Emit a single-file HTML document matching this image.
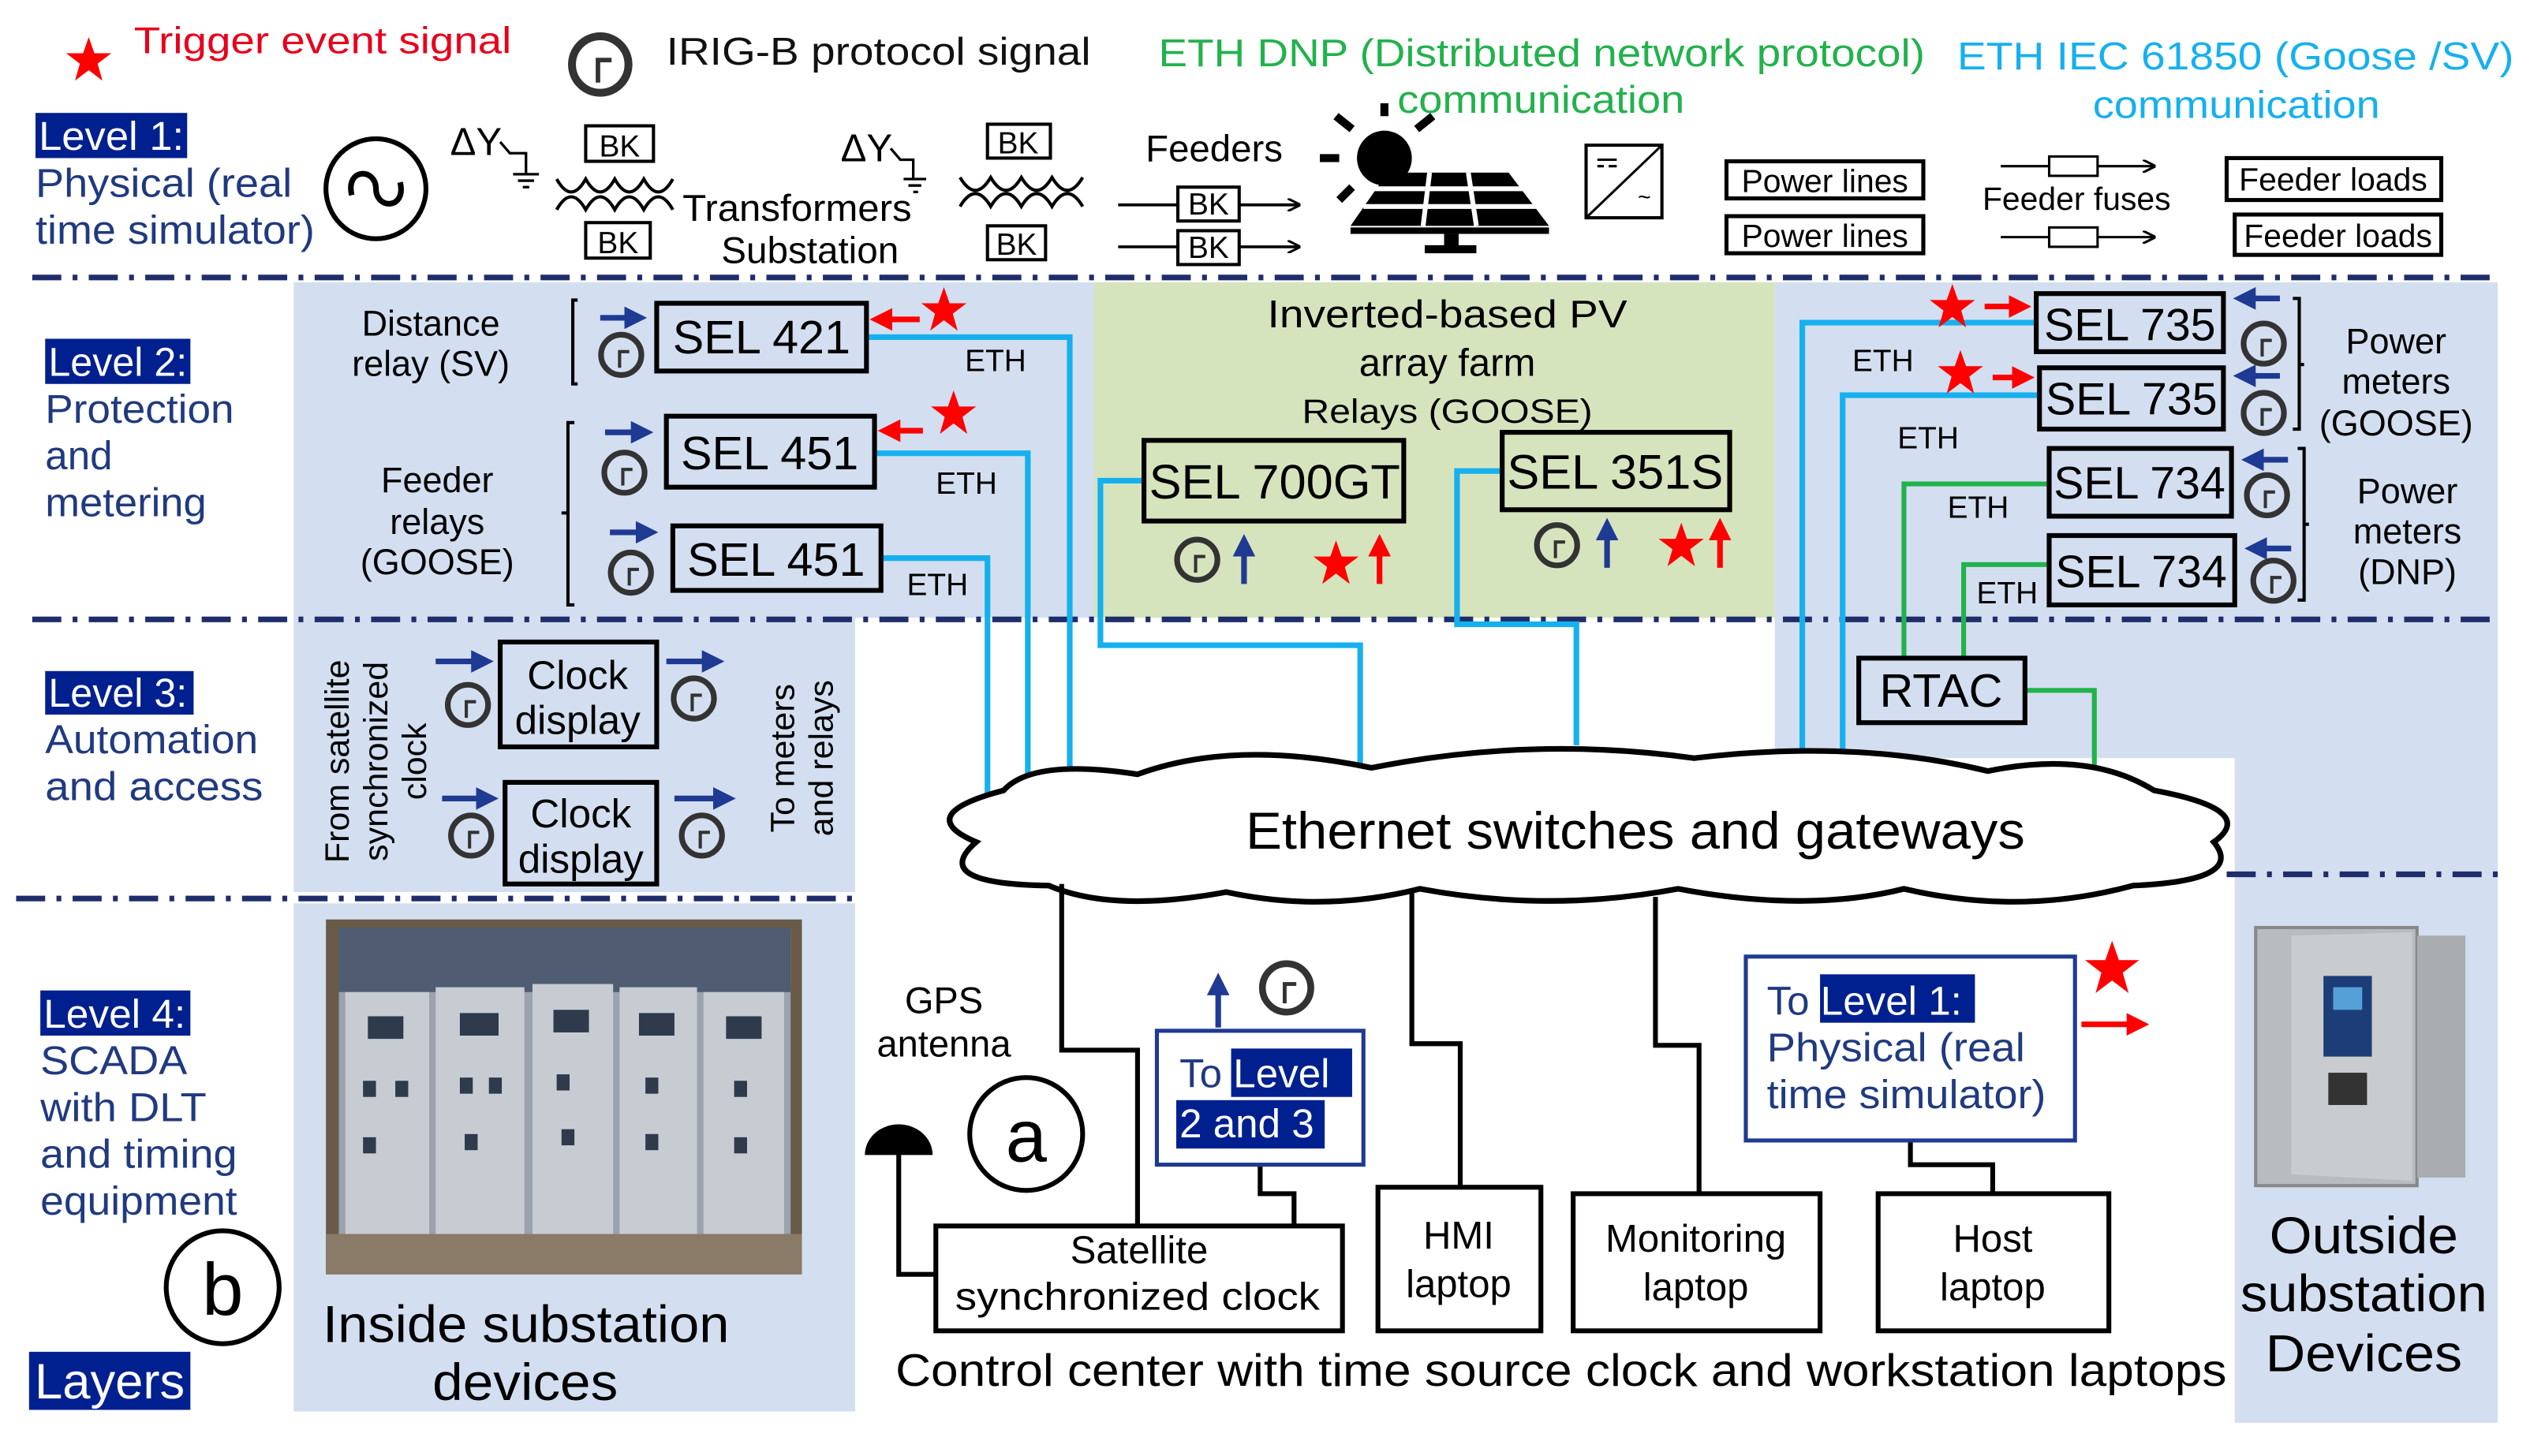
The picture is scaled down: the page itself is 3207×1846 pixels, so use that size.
<!DOCTYPE html>
<html><head><meta charset="utf-8"><style>
html,body{margin:0;padding:0;background:#fff}
svg{display:block}
text{font-family:"Liberation Sans",Arial,sans-serif}
</style></head><body>
<svg width="3207" height="1846" viewBox="0 0 1568 902.6" preserveAspectRatio="none" xmlns="http://www.w3.org/2000/svg">
<defs>
<g id="clk"><circle cx="0" cy="0" r="12.5" fill="none" stroke="#333" stroke-width="3.5"/><path d="M-1,8 V-2 H5" fill="none" stroke="#333" stroke-width="2"/></g>
<g id="star"><polygon points="0,-14 3.5,-4 14,-4 5.5,2.5 8.5,13 0,6.5 -8.5,13 -5.5,2.5 -14,-4 -3.5,-4" fill="#f00"/></g>
<marker id="ab" markerWidth="4" markerHeight="4" refX="2" refY="2" orient="auto" markerUnits="strokeWidth"><path d="M0,0 L4,2 L0,4 Z" fill="#1f3a93"/></marker>
<marker id="ar" markerWidth="4" markerHeight="4" refX="2" refY="2" orient="auto" markerUnits="strokeWidth"><path d="M0,0 L4,2 L0,4 Z" fill="#f00"/></marker>
<marker id="ak" markerWidth="8" markerHeight="8" refX="7" refY="4" orient="auto" markerUnits="userSpaceOnUse"><path d="M0,0 L8,4 L0,8" fill="none" stroke="#000" stroke-width="1.5"/></marker>
</defs>

<rect x="182" y="175" width="498" height="208" fill="#d3dff0"/>
<rect x="182" y="383" width="348" height="170" fill="#d3dff0"/>
<rect x="678" y="175" width="422" height="208" fill="#d6e4bd"/>
<rect x="1100" y="175" width="448" height="210" fill="#d3dff0"/>
<rect x="1100" y="385" width="448" height="85" fill="#d3dff0"/>
<rect x="1385" y="385" width="163" height="497" fill="#d3dff0"/>
<rect x="182" y="560" width="348" height="315" fill="#d3dff0"/>

<g stroke="#1f2d6b" stroke-width="3.5" stroke-dasharray="18,7,3,7" fill="none">
<line x1="20" y1="172" x2="1548" y2="172"/>
<line x1="20" y1="384" x2="1548" y2="384"/>
<line x1="10" y1="557" x2="535" y2="557"/>
<line x1="1380" y1="542" x2="1548" y2="542"/>
</g>

<use href="#star" x="55" y="37"/>
<text x="83" y="33" font-size="23" fill="#e8001c" textLength="234" lengthAdjust="spacingAndGlyphs">Trigger event signal</text>
<g transform="translate(372,40) scale(1.4)"><use href="#clk"/></g>
<text x="413" y="40" font-size="24" fill="#111" textLength="263" lengthAdjust="spacingAndGlyphs">IRIG-B protocol signal</text>
<text x="718" y="41" font-size="24" fill="#22b24c" textLength="475" lengthAdjust="spacingAndGlyphs">ETH DNP (Distributed network protocol)</text>
<text x="866" y="70" font-size="24" fill="#22b24c" textLength="178" lengthAdjust="spacingAndGlyphs">communication</text>
<text x="1213" y="43" font-size="24" fill="#16b0ee" textLength="345" lengthAdjust="spacingAndGlyphs">ETH IEC 61850 (Goose /SV)</text>
<text x="1297" y="73" font-size="24" fill="#16b0ee" textLength="178" lengthAdjust="spacingAndGlyphs">communication</text>

<rect x="22" y="70" width="94" height="28" fill="#00208f"/>
<text x="24" y="93" font-size="25" fill="#fff" textLength="90" lengthAdjust="spacingAndGlyphs">Level 1:</text>
<text x="22" y="122" font-size="25" fill="#203a80" textLength="159" lengthAdjust="spacingAndGlyphs">Physical (real</text>
<text x="22" y="151" font-size="25" fill="#203a80" textLength="173" lengthAdjust="spacingAndGlyphs">time simulator)</text>
<circle cx="233" cy="117" r="31" fill="none" stroke="#000" stroke-width="3"/>
<path d="M218,121 C214,104 233,104 233,117 C233,130 252,130 248,113" fill="none" stroke="#000" stroke-width="3.5"/>
<text x="279" y="96" font-size="24">ΔY</text>
<path d="M310,88 L316,95 H326 V108 M318,108 H334 M321,112 H331 M324,116 H328" fill="none" stroke="#000" stroke-width="1.6"/>
<rect x="363" y="78" width="42" height="22" fill="#fff" stroke="#000" stroke-width="2"/>
<text x="384" y="97" font-size="19" text-anchor="middle">BK</text>
<path d="M345,111 q9,16 18,0 q9,16 18,0 q9,16 18,0 q9,16 18,0" fill="none" stroke="#000" stroke-width="2"/>
<path d="M345,130 q9,-16 18,0 q9,-16 18,0 q9,-16 18,0 q9,-16 18,0" fill="none" stroke="#000" stroke-width="2"/>
<rect x="363" y="138" width="40" height="22" fill="#fff" stroke="#000" stroke-width="2"/>
<text x="383" y="157" font-size="19" text-anchor="middle">BK</text>
<text x="423" y="137" font-size="23" textLength="142" lengthAdjust="spacingAndGlyphs">Transformers</text>
<text x="447" y="163" font-size="23" textLength="110" lengthAdjust="spacingAndGlyphs">Substation</text>
<text x="521" y="100" font-size="24">ΔY</text>
<path d="M552,92 L558,99 H566 V111 M560,111 H574 M563,115 H571 M566,119 H569" fill="none" stroke="#000" stroke-width="1.6"/>
<rect x="612" y="77" width="39" height="21" fill="#fff" stroke="#000" stroke-width="2"/>
<text x="631" y="95" font-size="19" text-anchor="middle">BK</text>
<path d="M595,110 q9.5,16 19,0 q9.5,16 19,0 q9.5,16 19,0 q9.5,16 19,0" fill="none" stroke="#000" stroke-width="2"/>
<path d="M595,128 q9.5,-16 19,0 q9.5,-16 19,0 q9.5,-16 19,0 q9.5,-16 19,0" fill="none" stroke="#000" stroke-width="2"/>
<rect x="612" y="140" width="36" height="21" fill="#fff" stroke="#000" stroke-width="2"/>
<text x="630" y="158" font-size="19" text-anchor="middle">BK</text>
<text x="710" y="100" font-size="23" textLength="85" lengthAdjust="spacingAndGlyphs">Feeders</text>
<line x1="693" y1="127" x2="805" y2="127" stroke="#000" stroke-width="1.8" marker-end="url(#ak)"/>
<line x1="693" y1="153" x2="805" y2="153" stroke="#000" stroke-width="1.8" marker-end="url(#ak)"/>
<rect x="730" y="116" width="38" height="21" fill="#fff" stroke="#000" stroke-width="2"/>
<text x="749" y="133" font-size="19" text-anchor="middle">BK</text>
<rect x="730" y="143" width="38" height="21" fill="#fff" stroke="#000" stroke-width="2"/>
<text x="749" y="160" font-size="19" text-anchor="middle">BK</text>
<circle cx="858" cy="98" r="17" fill="#000"/>
<g stroke="#000" stroke-width="5">
<line x1="858" y1="72" x2="858" y2="64"/><line x1="838" y1="80" x2="828" y2="72"/><line x1="878" y1="80" x2="888" y2="72"/>
<line x1="830" y1="98" x2="818" y2="98"/><line x1="838" y1="116" x2="830" y2="124"/>
</g>
<polygon points="860,107 935,107 960,140 837,140" fill="#000"/>
<g stroke="#fff" stroke-width="3"><line x1="850" y1="117" x2="945" y2="117"/><line x1="845" y1="128" x2="952" y2="128"/><line x1="886" y1="107" x2="882" y2="140"/><line x1="910" y1="107" x2="915" y2="140"/></g>
<rect x="837" y="141" width="123" height="4" fill="#000"/>
<rect x="895" y="145" width="9" height="10" fill="#000"/><rect x="883" y="152" width="32" height="5" fill="#000"/>
<rect x="983" y="90" width="47" height="45" fill="#fff" stroke="#000" stroke-width="2"/>
<line x1="983" y1="135" x2="1030" y2="90" stroke="#000" stroke-width="1.5"/>
<path d="M990,99 H1002 M990,103 H994 M997,103 H1002" stroke="#000" stroke-width="1.5"/>
<text x="1015" y="127" font-size="14">~</text>
<rect x="1070" y="100" width="122" height="23" fill="#fff" stroke="#000" stroke-width="2.5"/>
<text x="1131" y="119" font-size="20" text-anchor="middle">Power lines</text>
<rect x="1070" y="134" width="122" height="23" fill="#fff" stroke="#000" stroke-width="2.5"/>
<text x="1131" y="153" font-size="20" text-anchor="middle">Power lines</text>
<line x1="1240" y1="103" x2="1335" y2="103" stroke="#000" stroke-width="1.5" marker-end="url(#ak)"/>
<rect x="1270" y="97" width="30" height="12" fill="#fff" stroke="#000" stroke-width="1.5"/>
<line x1="1240" y1="147" x2="1335" y2="147" stroke="#000" stroke-width="1.5" marker-end="url(#ak)"/>
<rect x="1270" y="141" width="30" height="12" fill="#fff" stroke="#000" stroke-width="1.5"/>
<text x="1287" y="130" font-size="20" text-anchor="middle">Feeder fuses</text>
<rect x="1380" y="98" width="133" height="26" fill="#fff" stroke="#000" stroke-width="2.5"/>
<text x="1446" y="118" font-size="20" text-anchor="middle">Feeder loads</text>
<rect x="1385" y="133" width="128" height="25" fill="#fff" stroke="#000" stroke-width="2.5"/>
<text x="1449" y="153" font-size="20" text-anchor="middle">Feeder loads</text>

<rect x="28" y="210" width="90" height="28" fill="#00208f"/>
<text x="30" y="233" font-size="25" fill="#fff" textLength="86" lengthAdjust="spacingAndGlyphs">Level 2:</text>
<text x="28" y="262" font-size="25" fill="#203a80" textLength="117" lengthAdjust="spacingAndGlyphs">Protection</text>
<text x="28" y="291" font-size="25" fill="#203a80">and</text>
<text x="28" y="320" font-size="25" fill="#203a80" textLength="100" lengthAdjust="spacingAndGlyphs">metering</text>

<g fill="none" stroke="#16b0ee" stroke-width="3.5">
<polyline points="537,209 663,209 663,497"/>
<polyline points="542,281 637,281 637,495"/>
<polyline points="546,346 612,346 612,495"/>
<polyline points="709,298 682,298 682,400 843,400 843,478"/>
<polyline points="931,292 903,292 903,387 977,387 977,462"/>
<polyline points="1262,200 1117,200 1117,472"/>
<polyline points="1264,245 1142,245 1142,468"/>
</g>
<g fill="none" stroke="#22b24c" stroke-width="3">
<polyline points="1270,300 1180,300 1180,408"/>
<polyline points="1270,350 1217,350 1217,408"/>
<polyline points="1255,428 1298,428 1298,476"/>
</g>

<text x="267" y="208" font-size="22" text-anchor="middle">Distance</text>
<text x="267" y="233" font-size="22" text-anchor="middle">relay (SV)</text>
<path d="M358,186 H355 V238 H358" fill="none" stroke="#000" stroke-width="2"/>
<line x1="372" y1="197" x2="394" y2="197" stroke="#1f3a93" stroke-width="3.5" marker-end="url(#ab)"/>
<use href="#clk" x="385" y="220"/>
<rect x="407" y="188" width="130" height="42" fill="none" stroke="#000" stroke-width="3"/>
<text x="472" y="219" font-size="29" text-anchor="middle">SEL 421</text>
<line x1="570" y1="198" x2="546" y2="198" stroke="#f00" stroke-width="3.5" marker-end="url(#ar)"/>
<use href="#star" x="585" y="192"/>
<text x="598" y="230" font-size="19">ETH</text>

<text x="271" y="305" font-size="22" text-anchor="middle">Feeder</text>
<text x="271" y="331" font-size="22" text-anchor="middle">relays</text>
<text x="271" y="356" font-size="22" text-anchor="middle">(GOOSE)</text>
<path d="M356,262 H352 V375 H356 M352,318 H348" fill="none" stroke="#000" stroke-width="2"/>
<line x1="375" y1="268" x2="398" y2="268" stroke="#1f3a93" stroke-width="3.5" marker-end="url(#ab)"/>
<use href="#clk" x="387" y="293"/>
<rect x="413" y="258" width="129" height="44" fill="none" stroke="#000" stroke-width="3"/>
<text x="477" y="291" font-size="29" text-anchor="middle">SEL 451</text>
<line x1="572" y1="267" x2="551" y2="267" stroke="#f00" stroke-width="3.5" marker-end="url(#ar)"/>
<use href="#star" x="591" y="256"/>
<text x="580" y="306" font-size="19">ETH</text>
<line x1="378" y1="330" x2="401" y2="330" stroke="#1f3a93" stroke-width="3.5" marker-end="url(#ab)"/>
<use href="#clk" x="391" y="355"/>
<rect x="417" y="326" width="129" height="40" fill="none" stroke="#000" stroke-width="3"/>
<text x="481" y="357" font-size="29" text-anchor="middle">SEL 451</text>
<text x="562" y="369" font-size="19">ETH</text>

<text x="897" y="203" font-size="24" text-anchor="middle" textLength="223" lengthAdjust="spacingAndGlyphs">Inverted-based PV</text>
<text x="897" y="233" font-size="24" text-anchor="middle">array farm</text>
<text x="897" y="262" font-size="21" text-anchor="middle" textLength="180" lengthAdjust="spacingAndGlyphs">Relays (GOOSE)</text>
<rect x="709" y="273" width="161" height="50" fill="none" stroke="#000" stroke-width="3"/>
<text x="790" y="309" font-size="30" text-anchor="middle">SEL 700GT</text>
<use href="#clk" x="742" y="347"/>
<line x1="771" y1="362" x2="771" y2="338" stroke="#1f3a93" stroke-width="3.5" marker-end="url(#ab)"/>
<use href="#star" x="828" y="349"/>
<line x1="855" y1="362" x2="855" y2="338" stroke="#f00" stroke-width="3.5" marker-end="url(#ar)"/>
<rect x="931" y="268" width="141" height="48" fill="none" stroke="#000" stroke-width="3"/>
<text x="1001" y="303" font-size="30" text-anchor="middle">SEL 351S</text>
<use href="#clk" x="965" y="338"/>
<line x1="996" y1="352" x2="996" y2="328" stroke="#1f3a93" stroke-width="3.5" marker-end="url(#ab)"/>
<use href="#star" x="1042" y="338"/>
<line x1="1066" y1="352" x2="1066" y2="328" stroke="#f00" stroke-width="3.5" marker-end="url(#ar)"/>

<use href="#star" x="1210" y="190"/>
<line x1="1230" y1="190" x2="1252" y2="190" stroke="#f00" stroke-width="3.5" marker-end="url(#ar)"/>
<use href="#star" x="1215" y="231"/>
<line x1="1235" y1="234" x2="1254" y2="234" stroke="#f00" stroke-width="3.5" marker-end="url(#ar)"/>
<rect x="1262" y="182" width="116" height="36" fill="none" stroke="#000" stroke-width="3"/>
<text x="1320" y="211" font-size="28" text-anchor="middle">SEL 735</text>
<rect x="1264" y="228" width="114" height="38" fill="none" stroke="#000" stroke-width="3"/>
<text x="1321" y="257" font-size="28" text-anchor="middle">SEL 735</text>
<text x="1148" y="230" font-size="19">ETH</text>
<text x="1176" y="278" font-size="19">ETH</text>
<rect x="1270" y="278" width="113" height="42" fill="none" stroke="#000" stroke-width="3"/>
<text x="1326" y="309" font-size="28" text-anchor="middle">SEL 734</text>
<rect x="1270" y="332" width="115" height="43" fill="none" stroke="#000" stroke-width="3"/>
<text x="1327" y="364" font-size="28" text-anchor="middle">SEL 734</text>
<text x="1207" y="321" font-size="19">ETH</text>
<text x="1225" y="374" font-size="19">ETH</text>
<g stroke="#1f3a93" stroke-width="3.5">
<line x1="1413" y1="185" x2="1391" y2="185" marker-end="url(#ab)"/>
<line x1="1413" y1="233" x2="1391" y2="233" marker-end="url(#ab)"/>
<line x1="1418" y1="285" x2="1396" y2="285" marker-end="url(#ab)"/>
<line x1="1420" y1="340" x2="1398" y2="340" marker-end="url(#ab)"/>
</g>
<use href="#clk" x="1403" y="213"/><use href="#clk" x="1403" y="256"/>
<use href="#clk" x="1405" y="307"/><use href="#clk" x="1409" y="360"/>
<path d="M1421,185 H1425 V266 H1421 M1425,226 H1428" fill="none" stroke="#000" stroke-width="2"/>
<path d="M1424,278 H1428 V372 H1424 M1428,325 H1431" fill="none" stroke="#000" stroke-width="2"/>
<text x="1485" y="219" font-size="22" text-anchor="middle">Power</text>
<text x="1485" y="244" font-size="22" text-anchor="middle">meters</text>
<text x="1485" y="270" font-size="22" text-anchor="middle">(GOOSE)</text>
<text x="1492" y="312" font-size="22" text-anchor="middle">Power</text>
<text x="1492" y="337" font-size="22" text-anchor="middle">meters</text>
<text x="1492" y="362" font-size="22" text-anchor="middle">(DNP)</text>
<rect x="1152" y="408" width="103" height="40" fill="none" stroke="#000" stroke-width="3"/>
<text x="1203" y="438" font-size="29" text-anchor="middle">RTAC</text>

<rect x="28" y="416" width="92" height="27" fill="#00208f"/>
<text x="30" y="438" font-size="25" fill="#fff" textLength="86" lengthAdjust="spacingAndGlyphs">Level 3:</text>
<text x="28" y="467" font-size="25" fill="#203a80" textLength="132" lengthAdjust="spacingAndGlyphs">Automation</text>
<text x="28" y="496" font-size="25" fill="#203a80" textLength="135" lengthAdjust="spacingAndGlyphs">and access</text>
<g font-size="21" text-anchor="middle">
<text transform="translate(216,472) rotate(-90)">From satellite</text>
<text transform="translate(240,472) rotate(-90)">synchronized</text>
<text transform="translate(264,472) rotate(-90)">clock</text>
<text transform="translate(492,470) rotate(-90)">To meters</text>
<text transform="translate(516,470) rotate(-90)">and relays</text>
</g>
<g stroke="#1f3a93" stroke-width="3.5">
<line x1="270" y1="410" x2="299" y2="410" marker-end="url(#ab)"/>
<line x1="413" y1="410" x2="442" y2="410" marker-end="url(#ab)"/>
<line x1="274" y1="495" x2="302" y2="495" marker-end="url(#ab)"/>
<line x1="418" y1="495" x2="449" y2="495" marker-end="url(#ab)"/>
</g>
<use href="#clk" x="290" y="437"/><use href="#clk" x="430" y="433"/>
<use href="#clk" x="292" y="518"/><use href="#clk" x="435" y="518"/>
<rect x="310" y="398" width="97" height="65" fill="none" stroke="#000" stroke-width="3"/>
<text x="358" y="427" font-size="25" text-anchor="middle">Clock</text>
<text x="358" y="455" font-size="25" text-anchor="middle">display</text>
<rect x="313" y="485" width="94" height="63" fill="none" stroke="#000" stroke-width="3"/>
<text x="360" y="513" font-size="25" text-anchor="middle">Clock</text>
<text x="360" y="541" font-size="25" text-anchor="middle">display</text>

<path d="M605,522 Q565,505 622,490 Q640,470 705,480 Q765,458 850,476 Q950,456 1050,470 Q1150,458 1232,478 Q1295,465 1335,490 Q1400,502 1372,522 Q1392,546 1322,549 Q1252,568 1180,551 Q1120,566 1040,551 Q960,566 880,551 Q820,566 760,553 Q690,566 650,549 Q575,548 605,522 Z" fill="#fff" stroke="#000" stroke-width="3.5"/>
<text x="772" y="526" font-size="32" textLength="483" lengthAdjust="spacingAndGlyphs">Ethernet switches and gateways</text>

<rect x="25" y="614" width="93" height="28" fill="#00208f"/>
<text x="27" y="637" font-size="25" fill="#fff" textLength="88" lengthAdjust="spacingAndGlyphs">Level 4:</text>
<text x="25" y="666" font-size="25" fill="#203a80" textLength="91" lengthAdjust="spacingAndGlyphs">SCADA</text>
<text x="25" y="695" font-size="25" fill="#203a80" textLength="103" lengthAdjust="spacingAndGlyphs">with DLT</text>
<text x="25" y="724" font-size="25" fill="#203a80" textLength="122" lengthAdjust="spacingAndGlyphs">and timing</text>
<text x="25" y="753" font-size="25" fill="#203a80" textLength="122" lengthAdjust="spacingAndGlyphs">equipment</text>
<circle cx="138" cy="798" r="35" fill="#fff" stroke="#000" stroke-width="3"/>
<text x="138" y="815" font-size="46" text-anchor="middle">b</text>
<rect x="18" y="838" width="100" height="36" fill="#00208f"/>
<text x="68" y="867" font-size="31" fill="#fff" text-anchor="middle">Layers</text>

<rect x="202" y="570" width="295" height="220" fill="#6a5a48"/>
<rect x="210" y="575" width="280" height="190" fill="#9aa2ae"/>
<rect x="210" y="575" width="280" height="40" fill="#4f5c72"/>
<g fill="#c7ccd3">
<rect x="214" y="615" width="52" height="150"/><rect x="270" y="612" width="55" height="153"/>
<rect x="330" y="610" width="50" height="155"/><rect x="384" y="612" width="48" height="153"/><rect x="436" y="615" width="50" height="150"/>
</g>
<g fill="#2f3a4c">
<rect x="228" y="630" width="22" height="14"/><rect x="285" y="628" width="24" height="14"/><rect x="343" y="626" width="22" height="14"/><rect x="396" y="628" width="22" height="14"/><rect x="450" y="630" width="22" height="14"/>
<rect x="225" y="670" width="8" height="10"/><rect x="245" y="670" width="8" height="10"/><rect x="285" y="668" width="8" height="10"/><rect x="303" y="668" width="8" height="10"/><rect x="345" y="666" width="8" height="10"/><rect x="400" y="668" width="8" height="10"/><rect x="455" y="670" width="8" height="10"/>
<rect x="225" y="705" width="8" height="10"/><rect x="288" y="703" width="8" height="10"/><rect x="348" y="700" width="8" height="10"/><rect x="400" y="703" width="8" height="10"/><rect x="455" y="705" width="8" height="10"/>
</g>
<rect x="202" y="765" width="295" height="25" fill="#8a7a68"/>
<text x="200" y="832" font-size="32" textLength="252" lengthAdjust="spacingAndGlyphs">Inside substation</text>
<text x="268" y="868" font-size="32" textLength="115" lengthAdjust="spacingAndGlyphs">devices</text>

<g fill="none" stroke="#000" stroke-width="3">
<polyline points="658,548 658,651 705,651 705,760"/>
<polyline points="781,722 781,740 802,740 802,760"/>
<polyline points="875,553 875,647 905,647 905,736"/>
<polyline points="1026,556 1026,648 1053,648 1053,740"/>
<polyline points="1184,707 1184,722 1235,722 1235,740"/>
<polyline points="557,715 557,790 580,790"/>
</g>
<path d="M536,716 A21,19 0 0 1 578,716 Z" fill="#000"/>
<text x="585" y="628" font-size="23" text-anchor="middle">GPS</text>
<text x="585" y="655" font-size="23" text-anchor="middle">antenna</text>
<circle cx="636" cy="703" r="35" fill="#fff" stroke="#000" stroke-width="3"/>
<text x="636" y="720" font-size="46" text-anchor="middle">a</text>
<use href="#clk" x="797" y="612" transform="translate(-159,-122) scale(1.2)"/>
<line x1="755" y1="637" x2="755" y2="610" stroke="#1f3a93" stroke-width="3.5" marker-end="url(#ab)"/>
<rect x="717" y="639" width="128" height="83" fill="#fff" stroke="#1f3a93" stroke-width="2.5"/>
<rect x="763" y="650" width="75" height="30" fill="#00208f"/>
<rect x="729" y="682" width="92" height="30" fill="#00208f"/>
<text x="731" y="674" font-size="25" fill="#203a80">To <tspan fill="#fff">Level</tspan></text>
<text x="731" y="705" font-size="25" fill="#fff">2 and 3</text>
<rect x="580" y="760" width="252" height="65" fill="#fff" stroke="#000" stroke-width="3"/>
<text x="706" y="783" font-size="24" text-anchor="middle">Satellite</text>
<text x="592" y="812" font-size="24" textLength="226" lengthAdjust="spacingAndGlyphs">synchronized  clock</text>
<rect x="854" y="736" width="101" height="89" fill="#fff" stroke="#000" stroke-width="3"/>
<text x="904" y="774" font-size="24" text-anchor="middle">HMI</text>
<text x="904" y="804" font-size="24" text-anchor="middle">laptop</text>
<rect x="975" y="740" width="153" height="85" fill="#fff" stroke="#000" stroke-width="3"/>
<text x="1051" y="776" font-size="24" text-anchor="middle">Monitoring</text>
<text x="1051" y="806" font-size="24" text-anchor="middle">laptop</text>
<rect x="1164" y="740" width="143" height="85" fill="#fff" stroke="#000" stroke-width="3"/>
<text x="1235" y="776" font-size="24" text-anchor="middle">Host</text>
<text x="1235" y="806" font-size="24" text-anchor="middle">laptop</text>
<rect x="1082" y="593" width="204" height="114" fill="#fff" stroke="#1f3a93" stroke-width="2.5"/>
<rect x="1128" y="604" width="96" height="30" fill="#00208f"/>
<text x="1095" y="629" font-size="25" fill="#203a80">To <tspan fill="#fff">Level 1:</tspan></text>
<text x="1095" y="658" font-size="25" fill="#203a80" textLength="160" lengthAdjust="spacingAndGlyphs">Physical (real</text>
<text x="1095" y="687" font-size="25" fill="#203a80" textLength="173" lengthAdjust="spacingAndGlyphs">time simulator)</text>
<g transform="translate(1309,600) scale(1.2)"><use href="#star"/></g>
<line x1="1290" y1="635" x2="1325" y2="635" stroke="#f00" stroke-width="3.5" marker-end="url(#ar)"/>
<text x="555" y="859" font-size="28" textLength="825" lengthAdjust="spacingAndGlyphs">Control center with time source clock and workstation laptops</text>

<rect x="1398" y="575" width="100" height="160" fill="#b8bcc0"/>
<rect x="1398" y="575" width="100" height="160" fill="none" stroke="#888" stroke-width="2"/>
<polygon points="1420,580 1495,578 1495,732 1420,728" fill="#c9ccce"/>
<rect x="1440" y="605" width="30" height="50" fill="#1d3d78"/>
<rect x="1446" y="612" width="18" height="14" fill="#56a0d8"/>
<rect x="1443" y="665" width="24" height="20" fill="#333"/>
<rect x="1498" y="580" width="30" height="150" fill="#a9adb0"/>
<text x="1465" y="777" font-size="32" text-anchor="middle" textLength="117" lengthAdjust="spacingAndGlyphs">Outside</text>
<text x="1465" y="813" font-size="32" text-anchor="middle" textLength="153" lengthAdjust="spacingAndGlyphs">substation</text>
<text x="1465" y="850" font-size="32" text-anchor="middle" textLength="122" lengthAdjust="spacingAndGlyphs">Devices</text>
</svg>
</body></html>
